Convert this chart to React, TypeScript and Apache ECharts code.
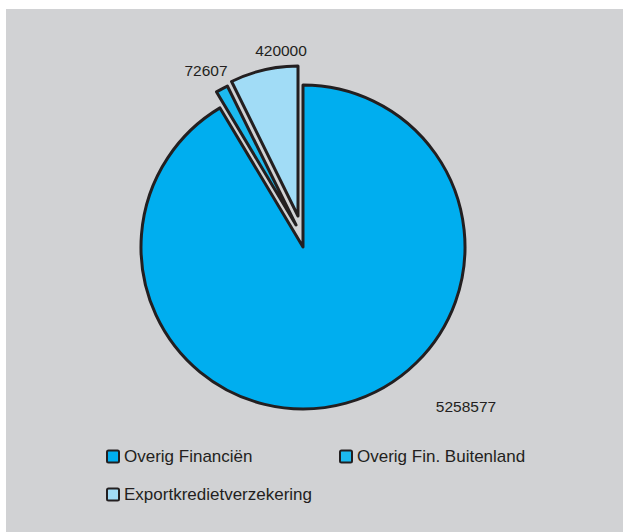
import { useEffect, useRef } from "react";
import * as echarts from "echarts";

const categories = ["Overig Financiën", "Overig Fin. Buitenland", "Exportkredietverzekering"];
const values = [5258577, 72607, 420000];

const sliceColors = ["#00aeef", "#1cbaef", "#a1dcf6"];
const outline = "#231f20";
const panel = "#d1d2d4";

// Each slice gets its own pie series so the pulled-out pieces can sit at their own centre and radius.
const sliceCenters = [
  [303, 247],
  [296, 225],
  [298, 216],
];
const sliceRadii = [162, 155, 150];
const labelSpots = [
  [466, 406],
  [206, 70],
  [281, 50],
];
const legendSpots = [
  [106, 448],
  [339, 448],
  [106, 486],
];

const font = "'Liberation Sans', Arial, Helvetica, sans-serif";
// square swatch with slightly softened corners
const swatch = "path://M1.5,0 H10.5 Q12,0 12,1.5 V10.5 Q12,12 10.5,12 H1.5 Q0,12 0,10.5 V1.5 Q0,0 1.5,0 Z";

function sliceSeries(visible: number) {
  return {
    type: "pie",
    silent: true,
    startAngle: 90,
    clockwise: true,
    avoidLabelOverlap: false,
    center: sliceCenters[visible],
    radius: [0, sliceRadii[visible]],
    z: 2,
    labelLine: { show: false },
    labelLayout: () => ({
      x: labelSpots[visible][0],
      y: labelSpots[visible][1],
      align: "center",
      verticalAlign: "middle",
    }),
    data: categories.map((name, i) => ({
      name,
      value: values[i],
      itemStyle:
        i === visible
          ? { color: sliceColors[i], borderColor: outline, borderWidth: 3 }
          : { color: "transparent", borderWidth: 0 },
      label: {
        show: i === visible,
        position: "outside",
        formatter: "{c}",
        color: outline,
        fontSize: 15.5,
        fontFamily: font,
      },
    })),
  };
}

export default function App() {
  const ref = useRef<HTMLDivElement>(null);

  useEffect(() => {
    if (!ref.current) return;
    const chart = echarts.init(ref.current, undefined, { renderer: "svg" });
    chart.setOption({
      animation: false,
      backgroundColor: "#ffffff",
      graphic: [
        {
          type: "rect",
          silent: true,
          z: 0,
          shape: { x: 6, y: 9, width: 617, height: 523 },
          style: { fill: panel },
        },
      ],
      legend: categories.map((name, i) => ({
        data: [
          {
            name,
            itemStyle: { color: sliceColors[i], borderColor: outline, borderWidth: 2 },
          },
        ],
        left: legendSpots[i][0],
        top: legendSpots[i][1],
        padding: 0,
        itemWidth: 12,
        itemHeight: 12,
        icon: swatch,
        selectedMode: false,
        textStyle: { color: outline, fontSize: 17, fontFamily: font },
      })),
      series: [sliceSeries(0), sliceSeries(1), sliceSeries(2)],
    });
    return () => chart.dispose();
  }, []);

  return (
    <div
      ref={ref}
      style={{ position: "fixed", left: 0, top: 0, width: 623, height: 532 }}
    />
  );
}
